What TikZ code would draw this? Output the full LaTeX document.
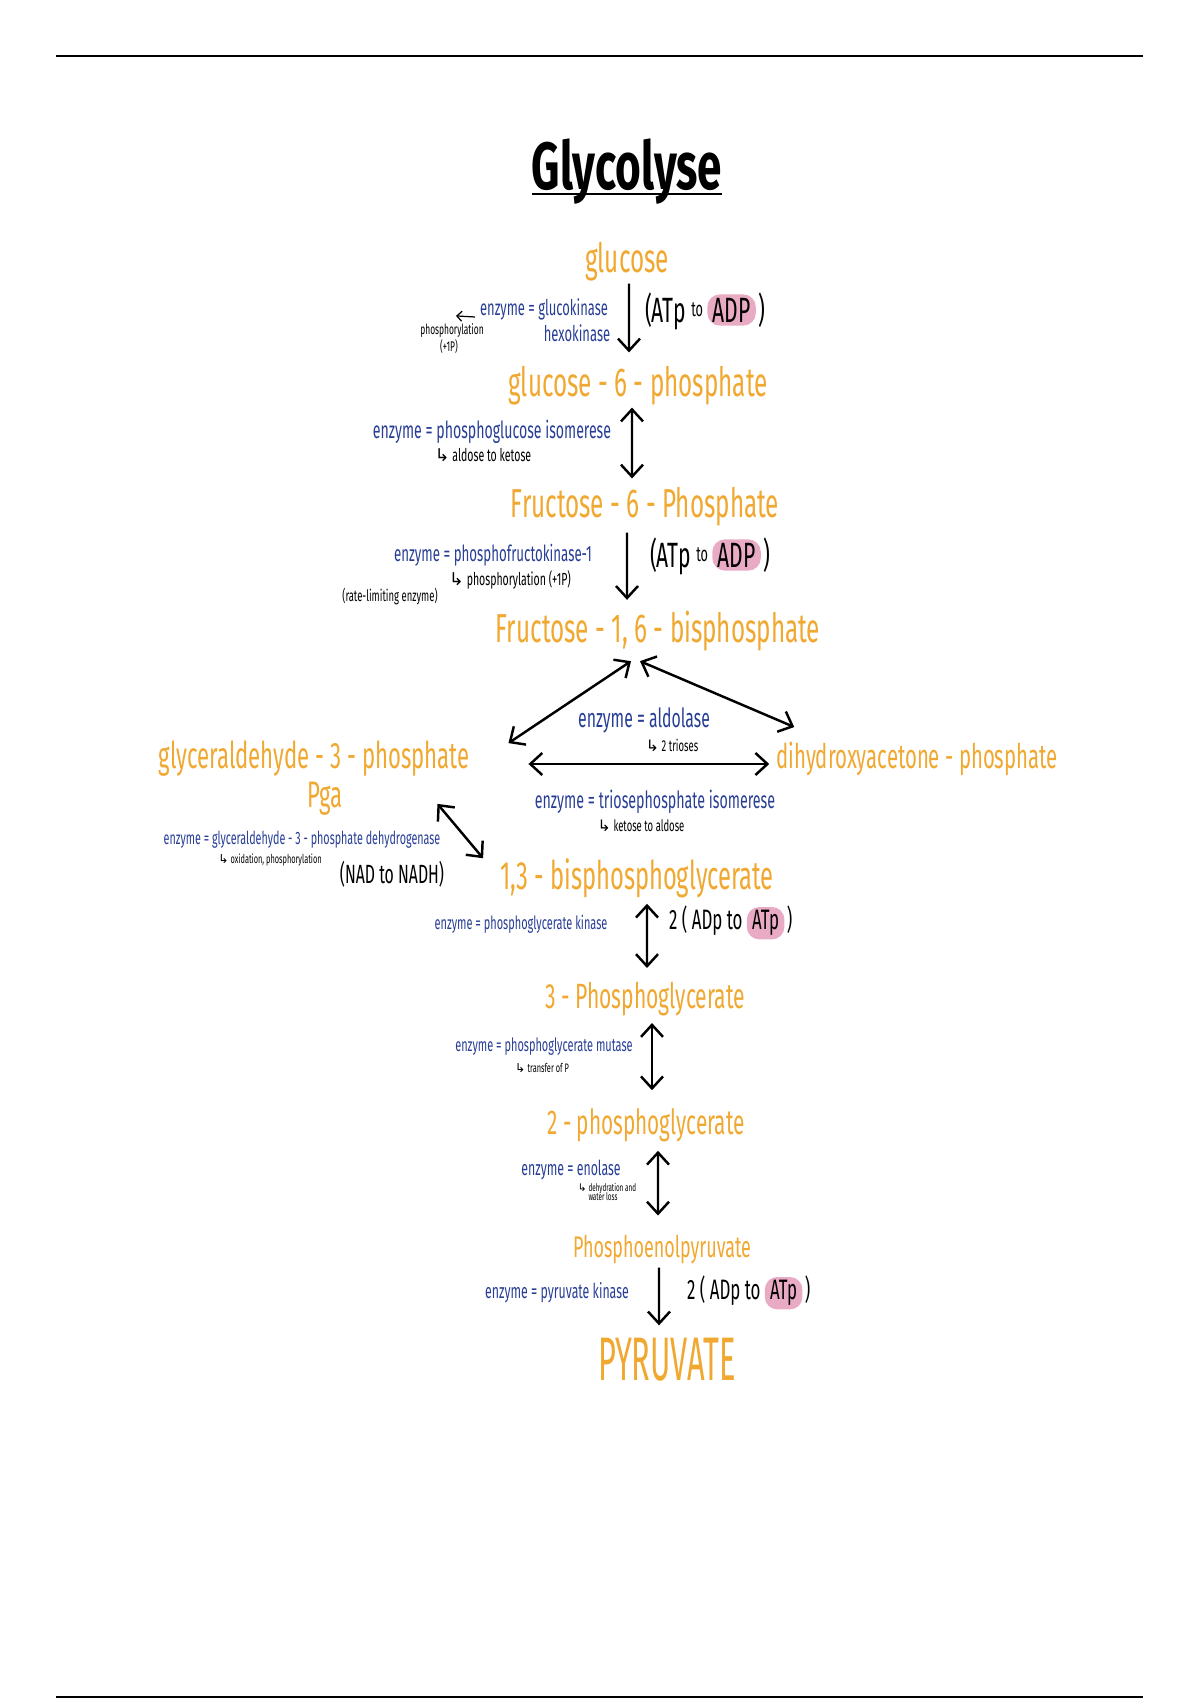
\documentclass[tikz,border=0pt]{standalone}
\usepackage{fontspec}
\setmainfont{Fira Sans}
\newfontfamily\handfont[FakeStretch=0.6]{Fira Sans}
\newfontfamily\tallfont[FakeStretch=0.5]{Fira Sans}
\newfontfamily\titlefont[FakeStretch=0.66]{Fira Sans}
\newfontfamily\symfont{DejaVu Sans}
\usepackage{tikz}
\usetikzlibrary{arrows.meta,positioning}

\definecolor{metabcol}{RGB}{240,168,48}
\definecolor{enzcol}{RGB}{40,62,150}
\definecolor{hlpink}{RGB}{233,170,195}
\newcommand{\hk}{{\symfont ↳}\,}

\begin{document}
\begin{tikzpicture}[x=0.2mm, y=-0.2mm, >={Straight Barb[length=2.4mm, width=4.4mm]},
    metab/.style={text=metabcol, inner sep=1pt, font=\handfont\fontsize{#1}{#1}\selectfont},
    metab/.default=23,
    enz/.style={text=enzcol, inner sep=1pt, font=\handfont\fontsize{#1}{#1}\selectfont},
    enz/.default=12,
    note/.style={text=black, inner sep=1pt, align=left, font=\handfont\fontsize{#1}{#1}\selectfont},
    note/.default=9,
    yield/.style={text=black, inner sep=1pt, font=\handfont\fontsize{#1}{#1}\selectfont},
    hl/.style={yield=#1, fill=hlpink, rounded corners=2.5mm, inner xsep=3pt, inner ysep=2pt},
    rxn/.style={line width=1.4pt}]

        \useasboundingbox (0,0) rectangle (1200,1700);

        % Page rules and title
        \draw[line width=1.2pt] (56,56) -- (1143,56);
        \draw[line width=1.2pt] (56,1697) -- (1143,1697);
        \node at (627,190) [anchor=base, inner sep=0pt, font=\titlefont\bfseries\fontsize{38}{40}\selectfont] (title) {Glycolyse};
        \draw[line width=1.2pt] ([yshift=-0.8mm]title.base west) -- ([yshift=-0.8mm]title.base east);

        % Metabolites
        \node at (627,262) [metab] (glc) {glucose};
        \node at (638,386) [metab] (g6p) {glucose - 6 - phosphate};
        \node at (645,507) [metab] (f6p) {Fructose - 6 - Phosphate};
        \node at (658,631) [metab] (f16bp) {Fructose - 1, 6 - bisphosphate};
        \node at (314,759) [metab=21] (gap) {glyceraldehyde - 3 - phosphate};
        \node at (325,799) [metab=21] (pga) {Pga};
        \node at (917,759) [metab=19.3] (dhap) {dihydroxyacetone - phosphate};
        \node at (637,878) [metab=22.5] (bpg) {1,3 - bisphosphoglycerate};
        \node at (645,999) [metab=20] (pg3) {3 - Phosphoglycerate};
        \node at (646,1125) [metab=19.7] (pg2) {2 - phosphoglycerate};
        \node at (662,1249) [metab=17] (pep) {Phosphoenolpyruvate};
        \node at (667,1360) [text=metabcol, inner sep=1pt, font=\tallfont\fontsize{35}{35}\selectfont] (pyr) {PYRUVATE};

        % Enzymes and notes
        \node at (544,309) [enz=12.3] (enzglc) {enzyme = glucokinase};
        \node at (577,333) [enz=12.3] (hexo) {hexokinase};
        \node at (452,331) [note=8] (phos) {phosphorylation};
        \node at (449,347) [note=8] (plusp) {(+1P)};
        \node at (492,432) [enz=13.4] (enzpgi) {enzyme = phosphoglucose isomerese};
        \node at (483,455) [note=10] (notepgi) {\hk aldose to ketose};
        \node at (493,555) [enz=12.6] (enzpfk) {enzyme = phosphofructokinase-1};
        \node at (510,580) [note=10] (notepfk) {\hk phosphorylation (+1P)};
        \node at (390,596) [note=9] (ratelim) {(rate-limiting enzyme)};
        \node at (644,720) [enz=15] (enzald) {enzyme = aldolase};
        \node at (672,745) [note=9] (noteald) {\hk 2 trioses};
        \node at (655,802) [enz=13.5] (enztpi) {enzyme = triosephosphate isomerese};
        \node at (641,826) [note=9] (notetpi) {\hk ketose to aldose};
        \node at (302,840) [enz=10.2] (enzgapdh) {enzyme = glyceraldehyde - 3 - phosphate dehydrogenase};
        \node at (270,860) [note=7] (notegapdh) {\hk oxidation, phosphorylation};
        \node at (392,874) [yield=15] (nadh) {(NAD to NADH)};
        \node at (521,924) [enz=10.4] (enzpgk) {enzyme = phosphoglycerate kinase};
        \node at (544,1047) [enz=10.4] (enzpgm) {enzyme = phosphoglycerate mutase};
        \node at (542,1068) [note=7] (notepgm) {\hk transfer of P};
        \node at (571,1170) [enz=11.7] (enzeno) {enzyme = enolase};
        \node at (607,1192) [note=6] (noteeno) {\hk dehydration and\\[-1pt]\quad water loss};
        \node at (557,1293) [enz=11.7] (enzpk) {enzyme = pyruvate kinase};

        % Energy yields
        \node at (643,311) [yield=20, anchor=west] (atpa) {(ATp \raisebox{3pt}{\fontsize{12}{12}\selectfont to}};
        \node [hl=20, right=1pt of atpa.base east, anchor=base west] (adpa) {ADP};
        \node [yield=20, right=0pt of adpa.base east, anchor=base west] (atpb) {)};
        \node at (648,556) [yield=20, anchor=west] (atpc) {(ATp \raisebox{3pt}{\fontsize{12}{12}\selectfont to}};
        \node [hl=20, right=1pt of atpc.base east, anchor=base west] (adpc) {ADP};
        \node [yield=20, right=0pt of adpc.base east, anchor=base west] (atpd) {)};
        \node at (667,921) [yield=16, anchor=west] (adpe) {2 ( ADp to};
        \node [hl=16, right=1pt of adpe.base east, anchor=base west] (atpe) {ATp};
        \node [yield=16, right=0pt of atpe.base east, anchor=base west] (adpf) {)};
        \node at (685,1291) [yield=16, anchor=west] (adpg) {2 ( ADp to};
        \node [hl=16, right=1pt of adpg.base east, anchor=base west] (atpg) {ATp};
        \node [yield=16, right=0pt of atpg.base east, anchor=base west] (adph) {)};

        % Arrows
        \draw[->, line width=0.7pt, >={Straight Barb[length=1mm, width=2mm]}] ([xshift=-0.6mm, yshift=-1.6mm]enzglc.west) -- ([xshift=0.8mm, yshift=1.2mm]phos.north);
        \draw[rxn, ->] ([xshift=0.4mm]glc.south) -- ([xshift=-1.8mm, yshift=2.4mm]g6p.north);
        \draw[rxn, <->] ([xshift=-1.2mm]g6p.south) -- ([xshift=-2.6mm, yshift=1.4mm]f6p.north);
        \draw[rxn, ->] ([xshift=-3.6mm, yshift=-0.8mm]f6p.south) -- ([xshift=-6.2mm, yshift=1.8mm]f16bp.north);
        \draw[rxn, <->] ([xshift=-5.4mm, yshift=-1.6mm]f16bp.south) -- ([xshift=7.4mm, yshift=-0.8mm]gap.north east);
        \draw[rxn, <->] ([xshift=-3.6mm, yshift=-1.6mm]f16bp.south) -- ([xshift=4mm, yshift=2.6mm]dhap.north west);
        \draw[rxn, <->] ([xshift=11.4mm, yshift=-1mm]gap.east) -- ([xshift=-1mm, yshift=-1mm]dhap.west);
        \draw[rxn, <->] ([xshift=-6.8mm, yshift=-5mm]gap.south east) -- ([xshift=-3mm, yshift=-0.4mm]bpg.north west);
        \draw[rxn, <->] ([xshift=2mm, yshift=-0.8mm]bpg.south) -- ([xshift=0.4mm, yshift=2.4mm]pg3.north);
        \draw[rxn, <->] ([xshift=1.4mm, yshift=-1mm]pg3.south) -- ([xshift=1.2mm, yshift=3.2mm]pg2.north);
        \draw[rxn, <->] ([xshift=2.4mm, yshift=-1.4mm]pg2.south) -- ([xshift=-0.8mm, yshift=3.4mm]pep.north);
        \draw[rxn, ->] ([xshift=-0.6mm, yshift=-0.4mm]pep.south) -- ([xshift=-1.6mm, yshift=2.2mm]pyr.north);

\end{tikzpicture}
\end{document}
